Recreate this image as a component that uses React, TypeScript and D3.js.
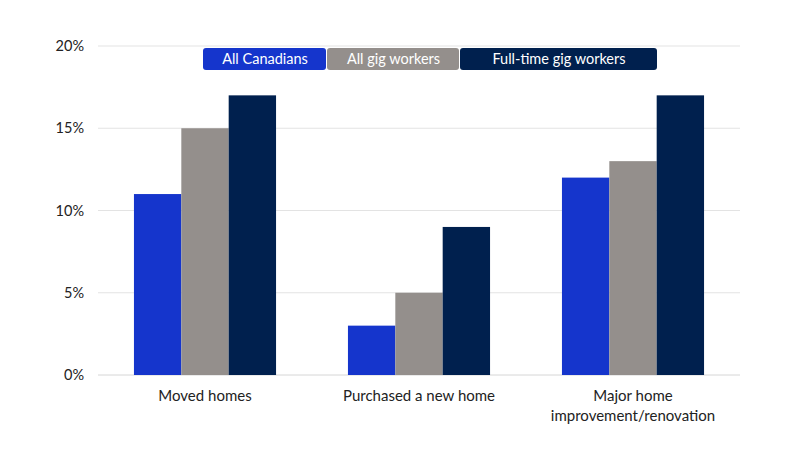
import React from "react";
import * as d3 from "d3";

const categories = ["Moved homes", "Purchased a new home", "Major home improvement/renovation"];
const categoryLines = [["Moved homes"], ["Purchased a new home"], ["Major home", "improvement/renovation"]];
const seriesNames = ["All Canadians", "All gig workers", "Full-time gig workers"];
const allCanadians = [11, 3, 12];
const allGigWorkers = [15, 5, 13];
const fullTimeGigWorkers = [17, 9, 17];
const yTicks = [0, 5, 10, 15, 20];
const colors = ["#1535cc", "#948f8c", "#00204e"];

export default function App() {
  const W = 800, H = 450;
  const left = 98, right = 740, top = 46, bottom = 375;
  const x = d3.scaleBand<string>().domain(categories).range([left, right]).paddingInner(0.336).paddingOuter(0.168);
  const x1 = d3.scaleBand<string>().domain(seriesNames).range([0, x.bandwidth()]);
  const y = d3.scaleLinear().domain([0, 20]).range([bottom, top]);
  const series = [allCanadians, allGigWorkers, fullTimeGigWorkers];
  const font = "Lato, 'Open Sans', sans-serif";
  const legendX = [203, 327, 460, 658];
  return (
    <svg width={W} height={H} style={{ position: "absolute", left: 0, top: 0 }} fontFamily={font}>
      <rect width={W} height={H} fill="#fff" />
      {yTicks.map((t) => (
        <g key={t}>
          <line x1={left} x2={right} y1={y(t)} y2={y(t)} stroke={t === 0 ? "#d6d6d6" : "#e3e3e3"} strokeWidth={1} />
          <text x={84} y={y(t)} dy="0.35em" textAnchor="end" fontSize={14.5} fill="#222">{t}%</text>
        </g>
      ))}
      {categories.map((c, ci) => (
        <g key={c}>
          {series.map((s, si) => (
            <rect key={si} x={(x(c) as number) + (x1(seriesNames[si]) as number)} y={y(s[ci])}
              width={x1.bandwidth()} height={y(0) - y(s[ci])} fill={colors[si]} />
          ))}
          {categoryLines[ci].map((ln, li) => (
            <text key={li} x={(x(c) as number) + x.bandwidth() / 2} y={401 + li * 20} textAnchor="middle" fontSize={15} fill="#222">{ln}</text>
          ))}
        </g>
      ))}
      {seriesNames.map((n, i) => (
        <g key={n}>
          <rect x={legendX[i]} y={48} width={legendX[i + 1] - legendX[i] - 1} height={22} rx={3} fill={colors[i]} />
          <text x={(legendX[i] + legendX[i + 1]) / 2} y={59} dy="0.35em" textAnchor="middle" fontSize={14.5} fill="#fff">{n}</text>
        </g>
      ))}
    </svg>
  );
}
